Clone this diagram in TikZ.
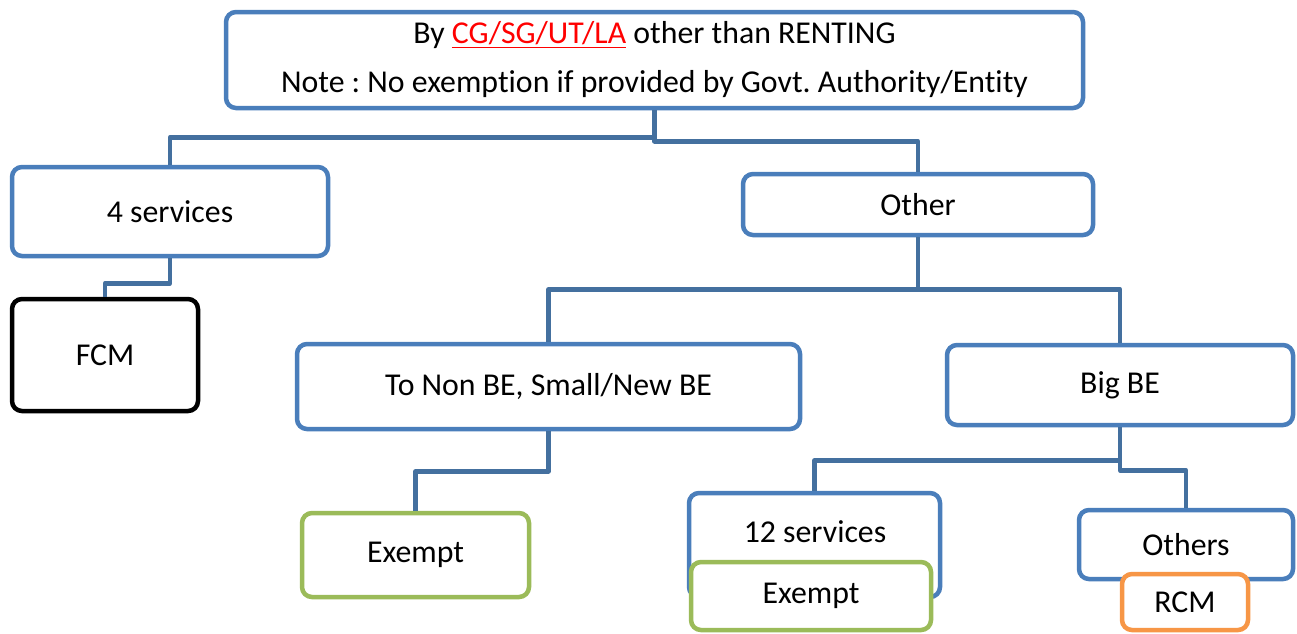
\documentclass[tikz,border=0pt]{standalone}
\usepackage{fontspec}
\setmainfont{Carlito}[Ligatures=NoCommon]
\frenchspacing
\usetikzlibrary{calc}
\definecolor{boxblue}{HTML}{4A7EBB}
\definecolor{linkblue}{HTML}{44709F}
\definecolor{boxgreen}{HTML}{9BBB59}
\definecolor{boxorange}{HTML}{F79646}
\tikzset{
  card/.style={draw=boxblue, line width=4.5pt, fill=white, rounded corners=10pt,
    inner sep=0pt, align=center, font=\fontsize{31.8}{38}\selectfont},
  blackcard/.style={card, draw=black},
  greencard/.style={card, draw=boxgreen},
  orangecard/.style={card, draw=boxorange},
  conn/.style={draw=linkblue, line width=4.5pt, line join=round},
  caption/.style={inner sep=0pt, font=\fontsize{31.8}{38}\selectfont}
}
\begin{document}
\begin{tikzpicture}[x=1pt, y=-1pt]
\useasboundingbox (0,0) rectangle (1297,633);

% root
\node[card, minimum width=857pt, minimum height=96pt,
      font=\fontsize{31.8}{49}\selectfont] (top) at (654.5,60)
  {By {\color{red}\underline{CG/SG/UT/LA}} other than RENTING\\
   Note : No exemption if provided by Govt. Authority/Entity};

% first level
\node[card, minimum width=316pt, minimum height=89pt] (four) at (170,211.5) {4 services};
\node[card, minimum width=350pt, minimum height=61pt] (other) at (918,204.5) {Other};

\node[blackcard, minimum width=186pt, minimum height=112pt] (fcm) at (105,355) {FCM};

% second level
\node[card, minimum width=503pt, minimum height=85pt] (nonbe) at (548.5,386.5) {To Non BE, Small/New BE};
\node[card, minimum width=346pt, minimum height=80pt] (bigbe) at (1120,385) {Big BE};

\node[greencard, minimum width=227pt, minimum height=84pt] (ex1) at (415.5,555) {Exempt};

% third level
\node[card, minimum width=251pt, minimum height=104pt] (twelve) at (814.5,545) {};
\node[caption] (twelvetxt) at (815,532) {12 services};
\node[greencard, minimum width=240pt, minimum height=68pt] (ex2) at (811,596) {Exempt};

\node[card, minimum width=214pt, minimum height=69pt] (others) at (1186,544.5) {Others};
\node[orangecard, minimum width=126pt, minimum height=56pt] (rcm) at (1185,602) {RCM};

% connectors
\draw[conn] (top.south) -- ++(0,27) -| (four.north);
\draw[conn] (top.south) -- ++(0,31) -| (other.north);
\draw[conn] (four.south) -- ++(0,25) -| (fcm.north);
\draw[conn] (other.south) -- ++(0,52) -| (nonbe.north);
\draw[conn] (other.south) -- ++(0,52) -| (bigbe.north);
\draw[conn] (nonbe.south) -- ++(0,40) -| (ex1.north);
\draw[conn] (bigbe.south) -- ++(0,33) -| (twelve.north);
\draw[conn] (bigbe.south) -- ++(0,43) -| (others.north);
\end{tikzpicture}
\end{document}
